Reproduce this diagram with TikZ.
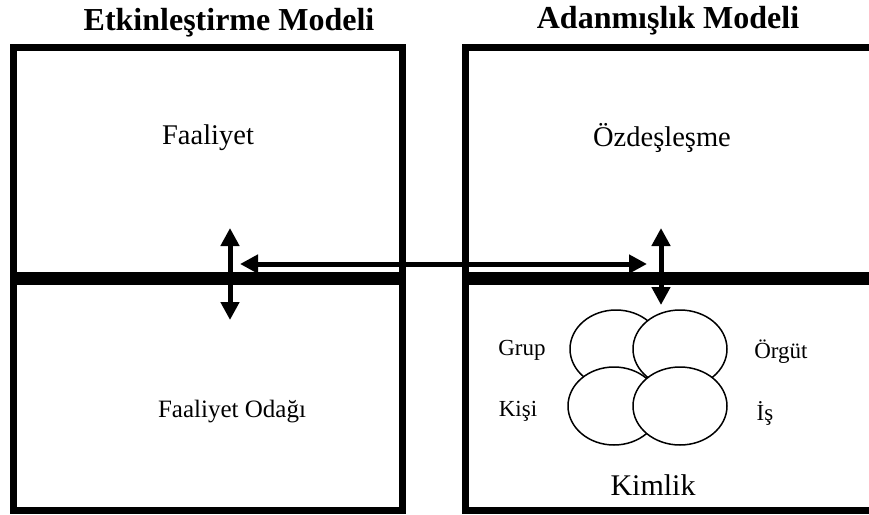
\documentclass[tikz,border=0pt]{standalone}
\usepackage{fontspec}
\setmainfont{Liberation Serif}
\usetikzlibrary{arrows.meta}

\tikzset{
	frame/.style={line width=7pt},
	bar/.style={line width=13pt},
	bigarrow/.style={line width=5pt, {Triangle[width=18pt,length=18pt]}-{Triangle[width=18pt,length=18pt]}},
	ring/.style={draw, fill=white, line width=1.5pt},
	title/.style={font=\fontsize{32}{36}\selectfont\bfseries},
	label/.style={font=\fontsize{28.5}{32}\selectfont},
	small/.style={font=\fontsize{23}{26}\selectfont}
}

\begin{document}
\begin{tikzpicture}[x=1pt, y=-1pt]
	\useasboundingbox (0,0) rectangle (869,514);
	% titles
	\node [title] (etk) at (229,23) {Etkinleştirme Modeli};
	\node [title] (adn) at (668,21) {Adanmışlık Modeli};
	% boxes
	\draw [frame] (13.5,47.5) rectangle (402.5,510);
	\draw [frame] (465.5,47.5) rectangle (880,510);
	\draw [bar] (10,278.5) -- (406,278.5);
	\draw [bar] (462,278.5) -- (869,278.5);
	% texts
	\node [label] (faal) at (208,138) {Faaliyet};
	\node [font=\fontsize{25}{28}\selectfont] (odak) at (232,412) {Faaliyet Odağı};
	\node [label] (ozd) at (662,138) {Özdeşleşme};
	\node [font=\fontsize{30}{33}\selectfont] (kim) at (653,485) {Kimlik};
	% circles
	\draw [ring] (616,349) ellipse [x radius=46, y radius=39];
	\draw [ring] (680,349) ellipse [x radius=47, y radius=39];
	\draw [ring] (614,406) ellipse [x radius=46, y radius=39];
	\draw [ring] (680,406) ellipse [x radius=47, y radius=39];
	\node [small] (grup) at (522,350) {Grup};
	\node [small] (orgut) at (781,352) {Örgüt};
	\node [small] (kisi) at (518,411) {Kişi};
	\node [small] (is) at (765,413) {İş};
	% arrows
	\coordinate (A1) at (230,228);
	\coordinate (A2) at (230,320);
	\coordinate (B1) at (240,264);
	\coordinate (B2) at (647,264);
	\coordinate (C1) at (661,228);
	\coordinate (C2) at (661,305);
	\draw [bigarrow] (A1) -- (A2);
	\draw [bigarrow] (B1) -- (B2);
	\draw [bigarrow] (C1) -- (C2);
\end{tikzpicture}
\end{document}
